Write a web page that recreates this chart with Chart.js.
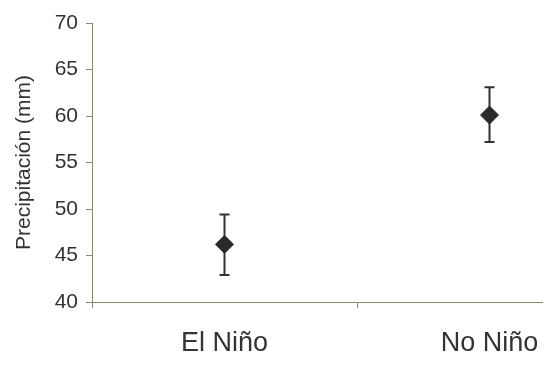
<!DOCTYPE html>
<html>
<head>
<meta charset="utf-8">
<script src="https://cdn.jsdelivr.net/npm/chart.js@4"></script>
<style>
  html, body { margin: 0; padding: 0; background: #fff; overflow: hidden; }
  #wrap { width: 640px; height: 367px; }
</style>
</head>
<body>
<div id="wrap"><canvas id="chart" width="640" height="367"></canvas></div>
<script>
// Categories and values
const categories = ['El Niño', 'No Niño'];
const means = [46.2, 60.1];
const lowerBounds = [42.9, 57.2];
const upperBounds = [49.4, 63.1];
const yTicks = [40, 45, 50, 55, 60, 65, 70];

const axisColor = '#8c8870';
const textColor = '#333333';

// Draws the vertical error bars with caps, behind the markers
const errorBars = {
    id: 'errorBars',
    beforeDatasetsDraw(chart) {
        const ctx = chart.ctx;
        const x = chart.scales.x;
        const y = chart.scales.y;
        ctx.save();
        ctx.strokeStyle = '#333333';
        ctx.lineWidth = 2;
        categories.forEach((c, i) => {
            const px = x.getPixelForValue(i);
            const top = y.getPixelForValue(upperBounds[i]);
            const bot = y.getPixelForValue(lowerBounds[i]);
            ctx.beginPath();
            ctx.moveTo(px, top);
            ctx.lineTo(px, bot);
            ctx.moveTo(px - 5, top);
            ctx.lineTo(px + 5, top);
            ctx.moveTo(px - 5, bot);
            ctx.lineTo(px + 5, bot);
            ctx.stroke();
        });
        ctx.restore();
    }
};

const ctx = document.getElementById('chart').getContext('2d');
new Chart(ctx, {
    type: 'line',
    data: {
        labels: categories,
        datasets: [{
            data: means,
            showLine: false,
            pointStyle: 'rectRot',
            pointRadius: 9,
            pointBackgroundColor: '#2a2a2a',
            pointBorderColor: '#2a2a2a',
            pointBorderWidth: 1
        }]
    },
    options: {
        responsive: false,
        animation: false,
        layout: { padding: { top: 23, right: 18, left: 8, bottom: 0 } },
        plugins: {
            legend: { display: false },
            tooltip: { enabled: false }
        },
        scales: {
            x: {
                offset: true,
                grid: {
                    offset: true,
                    drawOnChartArea: false,
                    tickLength: 6,
                    color: axisColor
                },
                border: { color: axisColor, width: 1 },
                ticks: {
                    padding: 19,
                    color: textColor,
                    font: { family: 'Liberation Sans, Arial', size: 27 }
                },
                afterFit(scale) { scale.height = 65; }
            },
            y: {
                min: 40,
                max: 70,
                afterBuildTicks(scale) {
                    scale.ticks = yTicks.map(v => ({ value: v }));
                },
                grid: {
                    drawOnChartArea: false,
                    tickLength: 6,
                    color: axisColor
                },
                border: { color: axisColor, width: 1 },
                ticks: {
                    padding: 8,
                    color: textColor,
                    font: { family: 'Liberation Sans, Arial', size: 21 }
                },
                title: {
                    display: true,
                    text: 'Precipitación (mm)',
                    color: textColor,
                    padding: { top: 4, bottom: 4 },
                    font: { family: 'Liberation Sans, Arial', size: 21 }
                },
                afterFit(scale) { scale.width = 84; }
            }
        }
    },
    plugins: [errorBars]
});
</script>
</body>
</html>
